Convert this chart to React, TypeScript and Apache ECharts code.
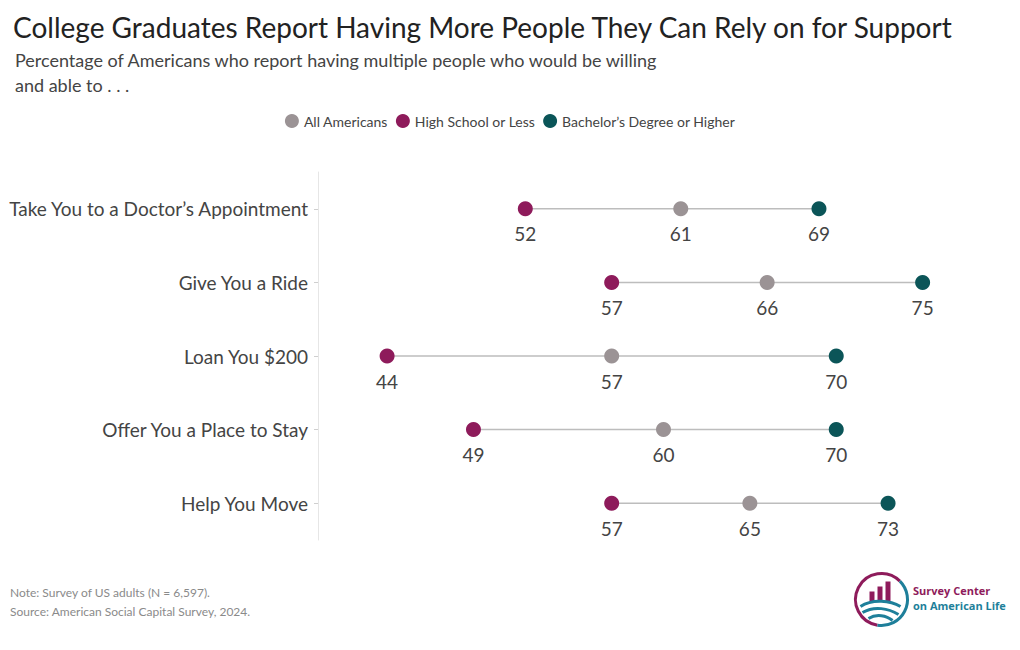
import React, { useEffect, useRef } from "react";
import * as echarts from "echarts";

const categories = [
  "Take You to a Doctor’s Appointment",
  "Give You a Ride",
  "Loan You $200",
  "Offer You a Place to Stay",
  "Help You Move",
];
const allAmericans = [61, 66, 57, 60, 65];
const highSchool = [52, 57, 44, 49, 57];
const bachelors = [69, 75, 70, 70, 73];
const seriesNames = ["All Americans", "High School or Less", "Bachelor’s Degree or Higher"];
const colors = ["#9b9395", "#8e1b5b", "#0b5558"];

const FONT = "Lato, 'Open Sans', sans-serif";

export default function App() {
  const ref = useRef<HTMLDivElement>(null);
  useEffect(() => {
    if (!ref.current) return;
    const chart = echarts.init(ref.current, null, { renderer: "svg" });
    const rangeData = categories.map((_, i) => [
      Math.min(allAmericans[i], highSchool[i], bachelors[i]),
      Math.max(allAmericans[i], highSchool[i], bachelors[i]),
      i,
    ]);
    const dotLabel = {
      show: true,
      position: "bottom" as const,
      distance: 8,
      fontSize: 19,
      color: "#444",
      fontFamily: FONT,
      formatter: (p: any) => String(p.value[0]),
    };
    const mkScatter = (name: string, vals: number[], color: string) => ({
      name,
      type: "scatter",
      symbol: "circle",
      symbolSize: 15,
      itemStyle: { color, opacity: 1 },
      label: dotLabel,
      z: 3,
      data: vals.map((v, i) => [v, i]),
    });
    chart.setOption({
      animation: false,
      textStyle: { fontFamily: FONT },
      title: [
        {
          text: "College Graduates Report Having More People They Can Rely on for Support",
          left: 8,
          top: 8,
          textStyle: { fontSize: 28, fontWeight: "normal", color: "#222", fontFamily: FONT },
        },
        {
          text: "Percentage of Americans who report having multiple people who would be willing\nand able to . . .",
          left: 10,
          top: 42,
          textStyle: { fontSize: 18, fontWeight: "normal", color: "#444", lineHeight: 25, fontFamily: FONT },
        },
      ],
      legend: {
        top: 109,
        left: "center",
        icon: "circle",
        itemWidth: 14,
        itemHeight: 14,
        itemGap: 8,
        textStyle: { fontSize: 14, color: "#444", fontFamily: FONT },
        data: seriesNames,
      },
      grid: { left: 318, right: 11, top: 172, height: 368 },
      xAxis: {
        type: "value",
        min: 40,
        max: 80,
        show: false,
      },
      yAxis: {
        type: "category",
        data: categories,
        inverse: true,
        axisLine: { show: true, lineStyle: { color: "#e6e6e6", width: 1 } },
        axisTick: { show: true, alignWithLabel: true, length: 4, lineStyle: { color: "#cfcfcf" } },
        axisLabel: { fontSize: 19, color: "#444", margin: 10, fontFamily: FONT },
        splitLine: { show: false },
      },
      series: [
        {
          type: "custom",
          z: 1,
          silent: true,
          renderItem: (params: any, api: any) => {
            const a = api.coord([api.value(0), api.value(2)]);
            const b = api.coord([api.value(1), api.value(2)]);
            return {
              type: "line",
              shape: { x1: a[0], y1: a[1], x2: b[0], y2: b[1] },
              style: { stroke: "#bdbdbd", lineWidth: 1.5 },
            };
          },
          encode: { x: [0, 1], y: 2 },
          data: rangeData,
        },
        mkScatter(seriesNames[0], allAmericans, colors[0]),
        mkScatter(seriesNames[1], highSchool, colors[1]),
        mkScatter(seriesNames[2], bachelors, colors[2]),
      ],
      graphic: [
        {
          type: "text",
          left: 10,
          top: 583,
          style: {
            text: "Note: Survey of US adults (N = 6,597).\nSource: American Social Capital Survey, 2024.",
            fontSize: 12,
            lineHeight: 19,
            fill: "#8a8a8a",
            fontFamily: FONT,
          },
        },
        {
          type: "group",
          left: 853,
          top: 571,
          children: [
            { type: "arc", shape: { cx: 29, cy: 27, r: 26, startAngle: Math.PI * 0.55, endAngle: Math.PI * 1.75 }, style: { stroke: "#8e1b5b", lineWidth: 3, fill: "none" } },
            { type: "arc", shape: { cx: 29, cy: 27, r: 26, startAngle: Math.PI * 1.75, endAngle: Math.PI * 2.55 }, style: { stroke: "#1e7f9a", lineWidth: 3, fill: "none" } },
            { type: "rect", shape: { x: 17, y: 19, width: 5, height: 10 }, style: { fill: "#8e1b5b" } },
            { type: "rect", shape: { x: 25, y: 14, width: 5, height: 15 }, style: { fill: "#8e1b5b" } },
            { type: "rect", shape: { x: 33, y: 9, width: 5, height: 20 }, style: { fill: "#8e1b5b" } },
            { type: "bezierCurve", shape: { x1: 8, y1: 34, x2: 48, y2: 34, cpx1: 20, cpy1: 26, cpx2: 38, cpy2: 28 }, style: { stroke: "#1e7f9a", lineWidth: 3, fill: "none" } },
            { type: "bezierCurve", shape: { x1: 10, y1: 40, x2: 46, y2: 42, cpx1: 22, cpy1: 33, cpx2: 36, cpy2: 36 }, style: { stroke: "#1e7f9a", lineWidth: 3, fill: "none" } },
            { type: "bezierCurve", shape: { x1: 16, y1: 46, x2: 40, y2: 48, cpx1: 24, cpy1: 41, cpx2: 34, cpy2: 43 }, style: { stroke: "#1e7f9a", lineWidth: 3, fill: "none" } },
          ],
        },
        {
          type: "text",
          left: 913,
          top: 585,
          style: {
            text: "Survey Center",
            fontSize: 11,
            fontWeight: "bold",
            fill: "#8e1b5b",
            fontFamily: "'Open Sans', sans-serif",
          },
        },
        {
          type: "text",
          left: 913,
          top: 600,
          style: {
            text: "on American Life",
            fontSize: 11,
            fontWeight: "bold",
            fill: "#1e7f9a",
            fontFamily: "'Open Sans', sans-serif",
          },
        },
      ],
    });
    return () => chart.dispose();
  }, []);
  return <div ref={ref} style={{ width: 1020, height: 650, position: "absolute", left: 0, top: 0 }} />;
}
